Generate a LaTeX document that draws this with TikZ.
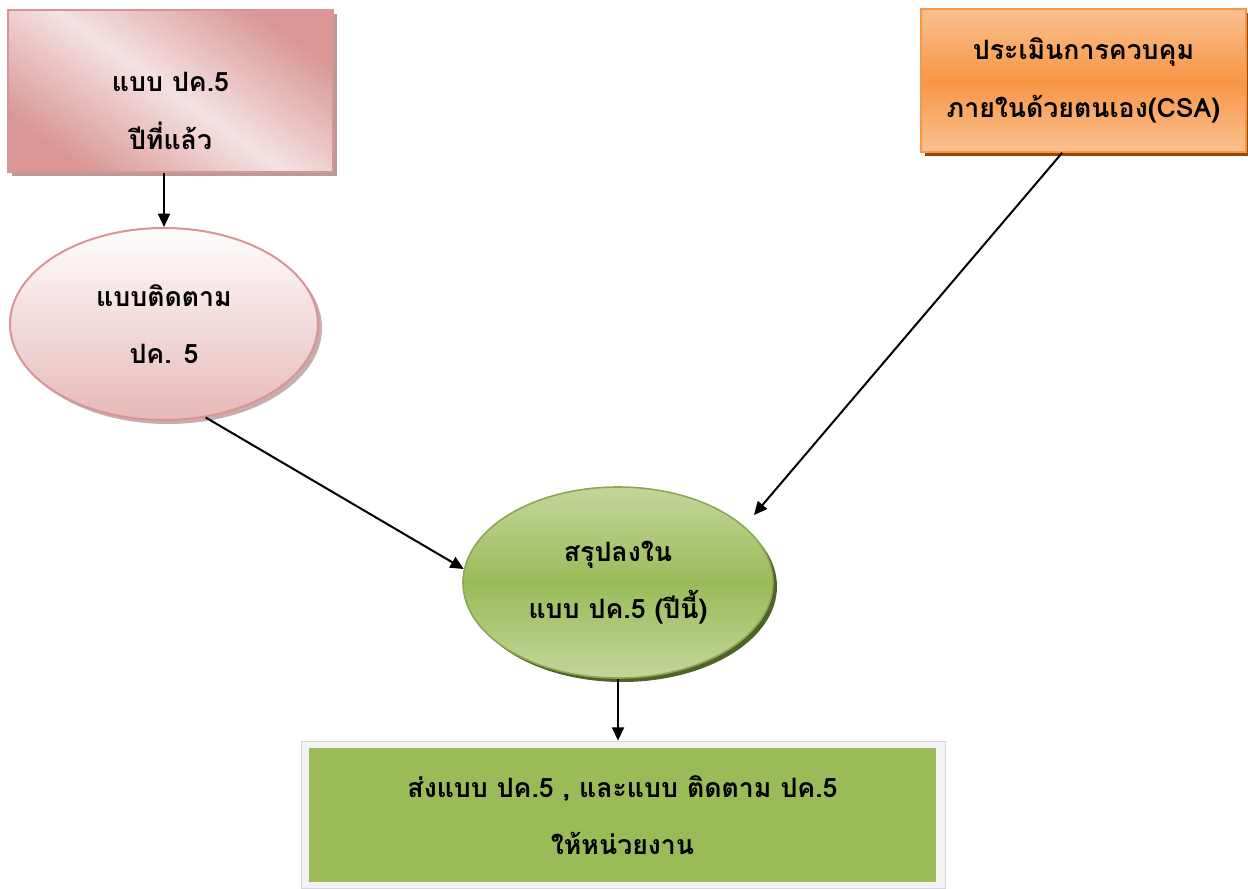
\documentclass[tikz,border=0pt]{standalone}
\usepackage{fontspec}
\newfontfamily\thai[Script=Thai]{Loma}
\usetikzlibrary{shapes.geometric,arrows.meta,shadows}
\definecolor{pinkdark}{HTML}{D99694}
\definecolor{pinklight}{HTML}{F4E2E2}
\definecolor{pinkborder}{HTML}{D99594}
\definecolor{pinkbottom}{HTML}{E6B9B8}
\definecolor{pinkshadow}{HTML}{B89A9A}
\definecolor{orangemid}{HTML}{F79646}
\definecolor{orangelight}{HTML}{FAC090}
\definecolor{orangeshadow}{HTML}{984806}
\definecolor{greenmid}{HTML}{9BBB59}
\definecolor{greenlight}{HTML}{C3D69B}
\definecolor{greenshadow}{HTML}{4F6228}
\definecolor{framegray}{HTML}{F2F2F2}
\begin{document}
\begin{tikzpicture}[x=0.75pt,y=-0.75pt,
  thaitext/.style={font=\thai\bfseries\fontsize{20}{43}\selectfont, align=center, text=black},
  conn/.style={line width=1.5pt, -{Triangle[length=10pt,width=9pt]}},
  pinkbox/.style={rectangle, draw=pinkborder, line width=1.2pt,
    top color=pinkdark, bottom color=pinkdark, middle color=pinklight, shading angle=-35,
    drop shadow={shadow xshift=3pt, shadow yshift=-3pt, fill=pinkshadow, opacity=1}},
  pinkell/.style={ellipse, draw=pinkborder, line width=1.5pt, inner sep=0pt,
    top color=white!97!pinkbottom, bottom color=pinkbottom,
    drop shadow={shadow xshift=3pt, shadow yshift=-3pt, fill=pinkshadow!80, opacity=1}},
  orangebox/.style={rectangle, draw=orangemid, line width=1.2pt,
    top color=orangelight, bottom color=orangelight, middle color=orangemid,
    drop shadow={shadow xshift=3pt, shadow yshift=-3pt, fill=orangeshadow, opacity=1}},
  greenell/.style={ellipse, draw=greenmid!90!black, line width=1.2pt, inner sep=0pt,
    top color=greenlight, bottom color=greenlight, middle color=greenmid,
    drop shadow={shadow xshift=3pt, shadow yshift=-3pt, fill=greenshadow, opacity=1}},
  outerframe/.style={rectangle, fill=framegray, draw=gray!30, line width=0.5pt},
  greenbox/.style={rectangle, fill=greenmid, draw=none},
]
\useasboundingbox (0,0) rectangle (1248,888);

% top-left box
\node[pinkbox, minimum width=243.75pt, minimum height=121.5pt] (box1) at (170.5,91) {};
\node[thaitext] (t1) at (170.5,111) {แบบ ปค.5\\ปีที่แล้ว};

% pink ellipse
\node[pinkell, thaitext, minimum width=231pt, minimum height=144pt] (ell1) at (164,324) {แบบติดตาม\\ปค. 5};

% orange box
\node[orangebox, thaitext, minimum width=243.75pt, minimum height=107.25pt] (box2) at (1083.5,80.5) {ประเมินการควบคุม\\ภายในด้วยตนเอง(CSA)};

% green ellipse
\node[greenell, thaitext, minimum width=232.5pt, minimum height=143.25pt] (ell2) at (618,582.5) {สรุปลงใน\\แบบ ปค.5 (ปีนี้)};

% bottom box
\node[outerframe, minimum width=483pt, minimum height=110.25pt] (frame) at (623,814.5) {};
\node[greenbox, thaitext, minimum width=470.25pt, minimum height=100.5pt] (box3) at (622.5,815) {ส่งแบบ ปค.5 , และแบบ ติดตาม ปค.5\\ให้หน่วยงาน};

% connectors
\draw[conn] (ell1.north |- box1.south) -- (ell1.north);
\draw[conn] (ell1.-66) -- (ell2.175);
\draw[conn, shorten >=11pt] ([xshift=-16pt]box2.south) -- (ell2.24);
\draw[conn] (ell2.south) -- (frame.north -| ell2.south);
\end{tikzpicture}
\end{document}
